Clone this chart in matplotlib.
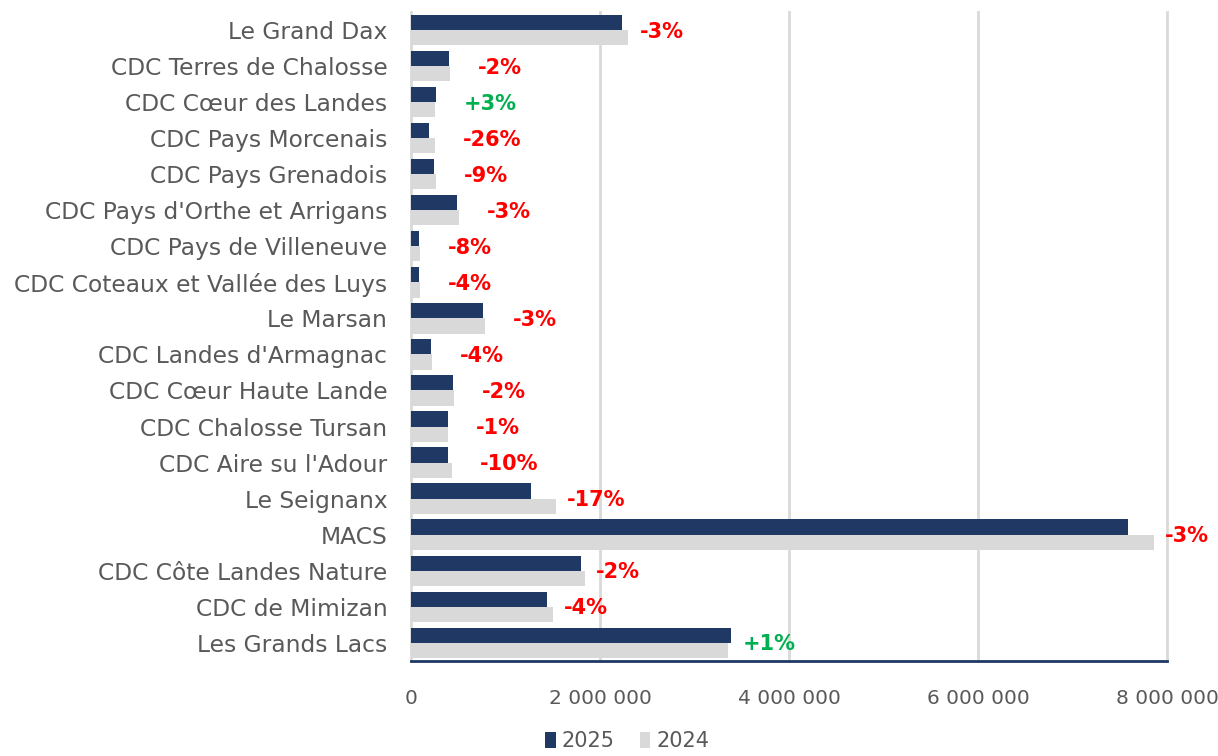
import numpy as np
import matplotlib.pyplot as plt
from matplotlib.ticker import FuncFormatter

categories = [
    "Le Grand Dax", "CDC Terres de Chalosse", "CDC Cœur des Landes",
    "CDC Pays Morcenais", "CDC Pays Grenadois", "CDC Pays d'Orthe et Arrigans",
    "CDC Pays de Villeneuve", "CDC Coteaux et Vallée des Luys", "Le Marsan",
    "CDC Landes d'Armagnac", "CDC Cœur Haute Lande", "CDC Chalosse Tursan",
    "CDC Aire su l'Adour", "Le Seignanx", "MACS", "CDC Côte Landes Nature",
    "CDC de Mimizan", "Les Grands Lacs",
]
values_2025 = [2230000, 400000, 265000, 190000, 240000, 490000, 90000, 90000, 760000,
               210000, 450000, 390000, 390000, 1270000, 7590000, 1800000, 1440000, 3390000]
values_2024 = [2300000, 410000, 257000, 257000, 263000, 505000, 98000, 94000, 783000,
               219000, 459000, 394000, 433000, 1530000, 7860000, 1840000, 1500000, 3360000]
changes = ["-3%", "-2%", "+3%", "-26%", "-9%", "-3%", "-8%", "-4%", "-3%",
           "-4%", "-2%", "-1%", "-10%", "-17%", "-3%", "-2%", "-4%", "+1%"]

navy = "#1F3864"
grey = "#D9D9D9"
text_grey = "#595959"

fig = plt.figure(figsize=(12.18, 7.56), dpi=100)
ax = fig.add_axes([0.3374, 0.126, 0.6207, 0.858])

n = len(categories)
y = np.arange(n)
h = 0.42
ax.barh(y - h / 2, values_2025, height=h, color=navy, label="2025", zorder=3)
ax.barh(y + h / 2, values_2024, height=h, color=grey, label="2024", zorder=3)

for i, txt in enumerate(changes):
    xmax = max(values_2025[i], values_2024[i])
    col = "#00B050" if txt.startswith("+") else "#FF0000"
    # small bars get their label pushed a bit further out, as in the source
    off = 8 if xmax > 1000000 else 20
    ax.annotate(txt, (xmax, y[i]), xytext=(off, -1), textcoords="offset points",
                va="center", ha="left", color=col, fontsize=15, fontweight="bold",
                family="DejaVu Sans", zorder=4)

ax.set_ylim(n - 0.5, -0.5)
ax.set_xlim(0, 8000000)
ax.set_xticks([0, 2000000, 4000000, 6000000, 8000000])
ax.xaxis.set_major_formatter(FuncFormatter(lambda v, p: f"{int(v):,}".replace(",", " ")))
ax.set_yticks(y)
ax.set_yticklabels(categories)

ax.grid(axis="x", color=grey, linewidth=2, zorder=0)
for gl in ax.get_xgridlines():
    gl.set_clip_on(False)
for s in ["top", "right", "left"]:
    ax.spines[s].set_visible(False)
ax.spines["bottom"].set_color(navy)
ax.spines["bottom"].set_linewidth(2)
ax.spines["bottom"].set_zorder(5)

ax.tick_params(axis="y", length=0, pad=17, labelsize=16.8, labelcolor=text_grey)
ax.tick_params(axis="x", length=0, pad=20, labelsize=14.5, labelcolor=text_grey)
for lbl in ax.get_yticklabels():
    lbl.set_family("DejaVu Sans")
for lbl in ax.get_xticklabels():
    lbl.set_family("DejaVu Sans")

leg = fig.legend(loc="lower center", bbox_to_anchor=(0.515, -0.018), ncol=2, frameon=False,
                 handlelength=0.5, handleheight=0.8, handletextpad=0.3, columnspacing=1.2,
                 prop={"family": "DejaVu Sans", "size": 15})
for t in leg.get_texts():
    t.set_color(text_grey)

fig.savefig("out.png", dpi=100)
